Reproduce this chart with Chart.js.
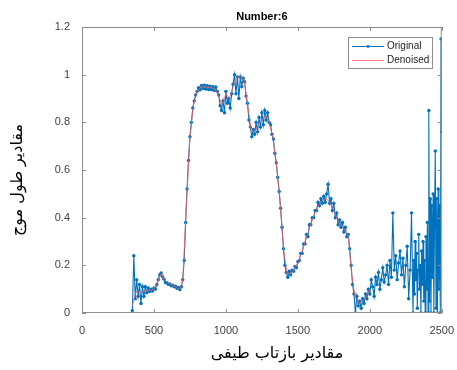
<!DOCTYPE html>
<html>
<head>
<meta charset="utf-8">
<script src="https://cdn.jsdelivr.net/npm/chart.js@4.4.1/dist/chart.umd.min.js"></script>
<style>
  html, body { margin: 0; background: #fff; }
  #wrap { width: 457px; height: 370px; }
</style>
</head>
<body>
<div id="wrap"><canvas id="c"></canvas></div>
<script>
// sampling grids (wavelength positions)
const origStart = 350, origStep = 10;      // 350 .. 2290
const tailStart = 2300, tailStep = 5;      // 2300 .. 2500
const denStart = 350, denStep = 25;        // 350 .. 2000

// Original signal
const originalMain = [
  0.01, 0.24, 0.06, 0.14, 0.07, 0.12, 0.04, 0.11, 0.07, 0.11,
  0.085, 0.105, 0.09, 0.10, 0.092, 0.105, 0.10, 0.12, 0.14, 0.16,
  0.168, 0.152, 0.142, 0.128, 0.127, 0.12, 0.122, 0.114, 0.117, 0.11,
  0.112, 0.104, 0.107, 0.098, 0.11, 0.14, 0.22, 0.38, 0.52, 0.64,
  0.74, 0.80, 0.86, 0.89, 0.915, 0.93, 0.945, 0.936, 0.955, 0.942,
  0.956, 0.94, 0.954, 0.938, 0.952, 0.937, 0.95, 0.934, 0.948, 0.93,
  0.915, 0.87, 0.85, 0.89, 0.84, 0.93, 0.88, 0.90, 0.86, 0.92,
  0.96, 1.00, 0.92, 0.99, 0.90, 0.99, 0.95, 0.985, 0.97, 0.91,
  0.88, 0.81, 0.78, 0.74, 0.77, 0.75, 0.80, 0.76, 0.82, 0.78,
  0.84, 0.79, 0.85, 0.81, 0.84, 0.80, 0.79, 0.75, 0.73, 0.67,
  0.63, 0.57, 0.51, 0.44, 0.36, 0.27, 0.20, 0.17, 0.15, 0.175,
  0.16, 0.18, 0.175, 0.195, 0.19, 0.215, 0.22, 0.25, 0.25, 0.29,
  0.29, 0.33, 0.32, 0.37, 0.37, 0.40, 0.40, 0.43, 0.43, 0.465,
  0.45, 0.48, 0.46, 0.49, 0.465, 0.50, 0.54, 0.46, 0.48, 0.43,
  0.46, 0.40, 0.42, 0.37, 0.39, 0.36, 0.38, 0.34, 0.36, 0.32,
  0.33, 0.27, 0.20, 0.12, 0.08, 0.00, 0.07, 0.03, 0.05, 0.02,
  0.06, 0.04, 0.08, 0.06, 0.10, 0.08, 0.14, 0.11, 0.07, 0.15,
  0.12, 0.17, 0.10, 0.14, 0.19, 0.13, 0.16, 0.20, 0.12, 0.22,
  0.15, 0.42, 0.18, 0.24, 0.14, 0.21, 0.26, 0.16, 0.23, 0.11,
  0.20, 0.28, 0.06, 0.18, 0.42
];
const originalTail = [
  0.00, 0.22, 0.08, 0.30, 0.14, 0.25, 0.02, 0.18, 0.33, 0.10,
  0.20, 0.00, 0.26, 0.12, 0.30, 0.05, 0.22, 0.00, 0.32, 0.10,
  0.38, 0.00, 0.85, 0.05, 0.48, 0.00, 0.45, 0.15, 0.50, 0.00,
  0.40, 0.68, 0.02, 0.48, 0.00, 0.52, 0.10, 0.45, 0.00, 1.15,
  0.76
];

// Denoised signal
const denoised = [
  0.03, 0.09, 0.085, 0.09, 0.095, 0.095, 0.10, 0.13, 0.165, 0.14,
  0.125, 0.117, 0.11, 0.10, 0.13, 0.45, 0.74, 0.875, 0.93, 0.947,
  0.95, 0.948, 0.945, 0.94, 0.91, 0.87, 0.92, 0.90, 0.95, 0.99,
  0.99, 0.98, 0.88, 0.77, 0.76, 0.79, 0.81, 0.83, 0.80, 0.74,
  0.63, 0.48, 0.27, 0.165, 0.165, 0.185, 0.21, 0.25, 0.30, 0.345,
  0.39, 0.43, 0.46, 0.475, 0.48, 0.46, 0.43, 0.39, 0.37, 0.35,
  0.32, 0.16, 0.06, 0.04, 0.05, 0.07, 0.10
];

const xTicks = [0, 500, 1000, 1500, 2000, 2500];
const yTicks = [0, 0.2, 0.4, 0.6, 0.8, 1, 1.2];
const xLabel = 'مقادیر بازتاب طیفی';
const yLabel = 'مقادیر طول موج';

const blue = '#0072BD';
const red = 'rgba(255, 90, 90, 0.8)';

const originalPts = originalMain.map((v, i) => ({ x: origStart + i * origStep, y: v }))
  .concat(originalTail.map((v, i) => ({ x: tailStart + i * tailStep, y: v })));
const denoisedPts = denoised.map((v, i) => ({ x: denStart + i * denStep, y: v }));

// axes box, inward ticks, title, axis labels and legend drawn MATLAB style
const matlabFrame = {
  id: 'matlabFrame',
  afterDraw(chart) {
    const { ctx, chartArea: a, scales: { x, y } } = chart;
    ctx.save();
    ctx.strokeStyle = '#8c8c8c';
    ctx.lineWidth = 1;
    ctx.strokeRect(a.left + 0.5, a.top + 0.5, a.width - 1, a.height - 1);
    const L = 4;
    ctx.beginPath();
    xTicks.forEach(v => {
      const px = Math.round(x.getPixelForValue(v)) + 0.5;
      ctx.moveTo(px, a.bottom); ctx.lineTo(px, a.bottom - L);
      ctx.moveTo(px, a.top); ctx.lineTo(px, a.top + L);
    });
    yTicks.forEach(v => {
      const py = Math.round(y.getPixelForValue(v)) + 0.5;
      ctx.moveTo(a.left, py); ctx.lineTo(a.left + L, py);
      ctx.moveTo(a.right, py); ctx.lineTo(a.right - L, py);
    });
    ctx.stroke();

    // title
    ctx.fillStyle = '#000';
    ctx.font = 'bold 11px "Liberation Sans", Arial, sans-serif';
    ctx.textAlign = 'center';
    ctx.textBaseline = 'middle';
    ctx.fillText('Number:6', (a.left + a.right) / 2, 17);

    // axis labels
    ctx.font = '16px "DejaVu Sans", sans-serif';
    ctx.fillText(xLabel, 277, 354);
    ctx.save();
    ctx.translate(18, 180);
    ctx.rotate(-Math.PI / 2);
    ctx.fillText(yLabel, 0, 0);
    ctx.restore();

    // legend
    const bx = 348, by = 37, bw = 84, bh = 31;
    ctx.fillStyle = '#fff';
    ctx.fillRect(bx, by, bw, bh);
    ctx.strokeStyle = '#8c8c8c';
    ctx.strokeRect(bx + 0.5, by + 0.5, bw, bh);
    ctx.lineWidth = 1;
    ctx.strokeStyle = blue;
    ctx.beginPath(); ctx.moveTo(352, 46.5); ctx.lineTo(384, 46.5); ctx.stroke();
    ctx.fillStyle = blue;
    ctx.beginPath(); ctx.arc(368, 46.5, 1.4, 0, Math.PI * 2); ctx.fill();
    ctx.strokeStyle = red;
    ctx.beginPath(); ctx.moveTo(352, 60.5); ctx.lineTo(384, 60.5); ctx.stroke();
    ctx.fillStyle = '#222';
    ctx.font = '10px "Liberation Sans", Arial, sans-serif';
    ctx.textAlign = 'left';
    ctx.fillText('Original', 387, 46.5);
    ctx.fillText('Denoised', 387, 60.5);
    ctx.restore();
  }
};

new Chart(document.getElementById('c'), {
  type: 'line',
  data: {
    datasets: [{
      label: 'Original',
      data: originalPts,
      borderColor: blue,
      backgroundColor: blue,
      borderWidth: 1.1,
      pointRadius: 1.7,
      pointBorderWidth: 0,
      pointBackgroundColor: blue,
      tension: 0,
      order: 1
    }, {
      label: 'Denoised',
      data: denoisedPts,
      borderColor: red,
      borderWidth: 1,
      pointRadius: 0,
      tension: 0,
      order: 0
    }]
  },
  options: {
    responsive: true,
    maintainAspectRatio: false,
    animation: false,
    layout: { padding: { left: 0, right: 13, top: 27, bottom: 0 } },
    plugins: { legend: { display: false }, tooltip: { enabled: false } },
    scales: {
      x: {
        type: 'linear',
        min: 0, max: 2500,
        grid: { display: false },
        border: { display: false },
        afterFit(s) { s.height = 57; },
        afterBuildTicks(s) { s.ticks = xTicks.map(v => ({ value: v })); },
        ticks: {
          color: '#404040',
          font: { family: '"Liberation Sans", Arial, sans-serif', size: 11 },
          padding: 3,
          maxRotation: 0,
          callback: v => String(v)
        }
      },
      y: {
        min: 0, max: 1.2,
        grid: { display: false },
        border: { display: false },
        afterFit(s) { s.width = 82; },
        afterBuildTicks(s) { s.ticks = yTicks.map(v => ({ value: v })); },
        ticks: {
          color: '#404040',
          font: { family: '"Liberation Sans", Arial, sans-serif', size: 11 },
          padding: 4,
          callback: v => String(+v.toFixed(1))
        }
      }
    }
  },
  plugins: [matlabFrame]
});
</script>
</body>
</html>
